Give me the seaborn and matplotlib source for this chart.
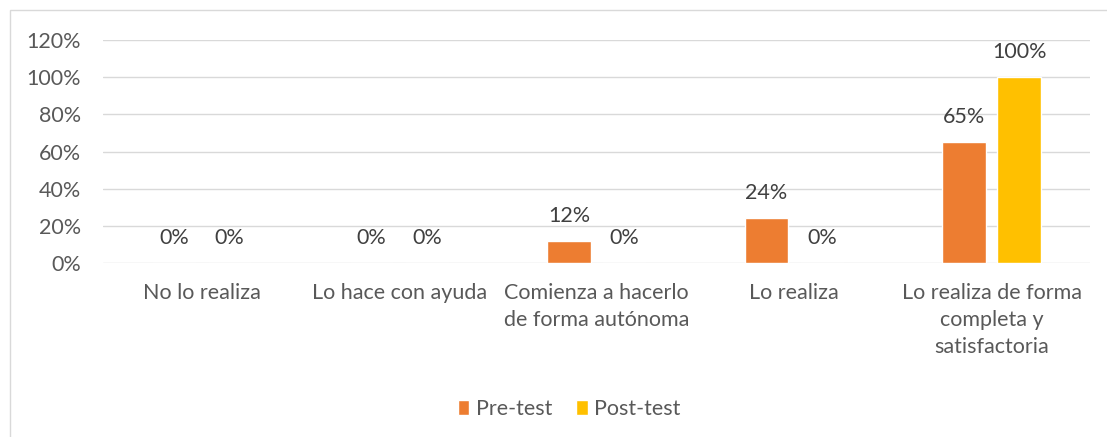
import pandas as pd
import seaborn as sns
from matplotlib import pyplot as plt
from matplotlib.patches import Rectangle
from matplotlib.ticker import PercentFormatter

# ------------------------------------------------- #
categories = ["No lo realiza", "Lo hace con ayuda",
              "Comienza a hacerlo\nde forma autónoma", "Lo realiza",
              "Lo realiza de forma\ncompleta y\nsatisfactoria"]
pre_test = [0.0, 0.0, 0.12, 0.24, 0.65]
post_test = [0.0, 0.0, 0.0, 0.0, 1.0]
series = ["Pre-test", "Post-test"]
colors = ["#ED7D31", "#FFC000"]
# ------------------------------------------------- #

df = pd.DataFrame({
    "cat": categories * 2,
    "val": pre_test + post_test,
    "serie": [series[0]] * len(categories) + [series[1]] * len(categories),
})

sns.set_theme(style="white")
plt.rcParams['font.family'] = ['Lato', 'DejaVu Sans']
fs = 15.5

fig = plt.figure(figsize=(11.07, 4.37), dpi=100)
ax = fig.add_axes([0.093, 0.398, 0.892, 0.51])

sns.barplot(data=df, x="cat", y="val", hue="serie", palette=colors,
            width=0.56, gap=0.21, saturation=1, ax=ax, order=categories)

ax.set_ylim(0, 1.2)
ax.set_yticks([0, 0.2, 0.4, 0.6, 0.8, 1.0, 1.2])
ax.yaxis.set_major_formatter(PercentFormatter(1.0, decimals=0))
ax.grid(axis="y", color="#D9D9D9", linewidth=1)
ax.set_axisbelow(True)
for s in ax.spines.values():
    s.set_visible(False)
ax.set_xlabel("")
ax.set_ylabel("")
ax.tick_params(axis="both", length=0, labelsize=fs, labelcolor="#595959")
ax.tick_params(axis="y", pad=16)
ax.tick_params(axis="x", pad=14)
ax.set_xlim(-0.5, len(categories) - 0.5)
for t in ax.get_xticklabels():
    t.set_linespacing(1.45)

for cont in ax.containers:
    labs = ["%d%%" % round(b.get_height() * 100) for b in cont]
    ax.bar_label(cont, labels=labs, padding=11, fontsize=fs, color="#404040")

leg = ax.legend(loc="center", bbox_to_anchor=(0.472, -0.655), ncol=2,
                frameon=False, fontsize=fs, handlelength=0.55, handleheight=0.75,
                handletextpad=0.3, columnspacing=1.1)
for t in leg.get_texts():
    t.set_color("#595959")

# outer chart border
fig.patches.append(Rectangle((10 / 1107, -0.01), 1.1, 1 - 10 / 437 + 0.01,
                             transform=fig.transFigure, fill=False,
                             edgecolor="#D9D9D9", linewidth=1))

plt.savefig("out.png", dpi=100)
